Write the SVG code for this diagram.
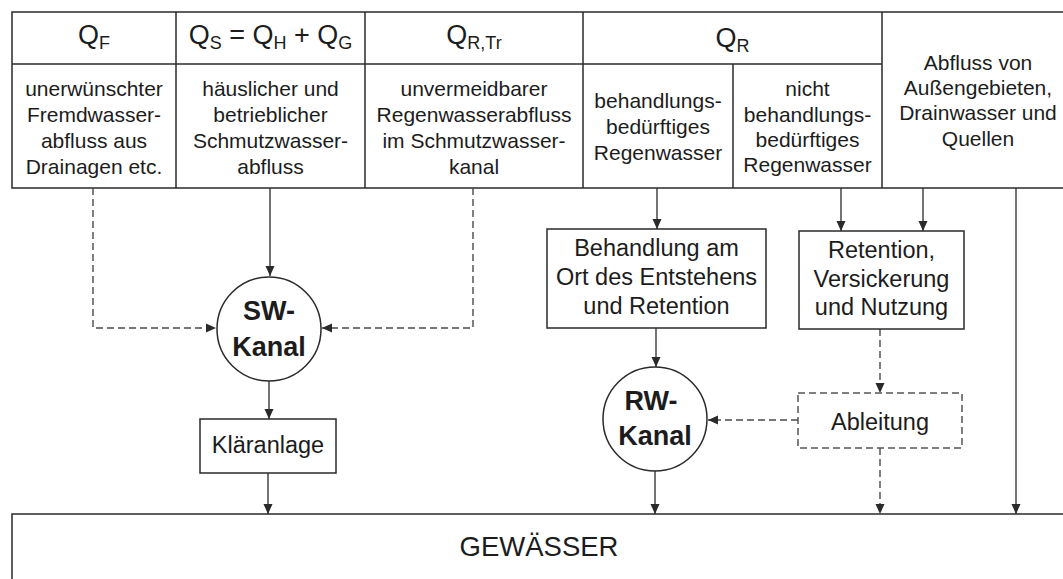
<svg xmlns="http://www.w3.org/2000/svg" width="1063" height="579" viewBox="0 0 1063 579">
<style>
text{font-family:"Liberation Sans",Arial,Helvetica,sans-serif;fill:#1c1c1c;text-anchor:middle}
.hd{font-size:27px}
.sub{font-size:18px}
.cell{font-size:21px}
.box{font-size:23.5px}
.bold{font-size:27px;font-weight:bold}
.gw{font-size:27.5px}
.frame{fill:none;stroke:#2a2a2a;stroke-width:1.5}
.node{fill:#fff;stroke:#2a2a2a;stroke-width:1.5}
.dnode{fill:#fff;stroke:#555;stroke-width:1.5;stroke-dasharray:7 4}
.solid{fill:none;stroke:#2a2a2a;stroke-width:1.3}
.dash{fill:none;stroke:#4a4a4a;stroke-width:1.4;stroke-dasharray:7 4}
</style>
<defs>
<marker id="ah" viewBox="0 0 10 10" refX="10" refY="5" markerWidth="10" markerHeight="10" markerUnits="userSpaceOnUse" orient="auto">
<path d="M0,0.5 L10,5 L0,9.5 z" fill="#2a2a2a"/>
</marker>
</defs>
<rect width="1063" height="579" fill="#fff"/>

<g id="table">
<rect class="frame" x="12" y="12" width="1070" height="176"/>
<line class="frame" x1="12" y1="64" x2="882" y2="64"/>
<line class="frame" x1="176" y1="12" x2="176" y2="188"/>
<line class="frame" x1="365" y1="12" x2="365" y2="188"/>
<line class="frame" x1="583" y1="12" x2="583" y2="188"/>
<line class="frame" x1="733" y1="64" x2="733" y2="188"/>
<line class="frame" x1="882" y1="12" x2="882" y2="188"/>
</g>

<g id="cell-QF">
<text class="hd" x="94" y="44">Q<tspan class="sub" dy="5">F</tspan></text>
<text class="cell" x="94" y="96">unerwünschter</text>
<text class="cell" x="94" y="122">Fremdwasser-</text>
<text class="cell" x="94" y="148">abfluss aus</text>
<text class="cell" x="94" y="174">Drainagen etc.</text>
</g>

<g id="cell-QS">
<text class="hd" x="270.5" y="44">Q<tspan class="sub" dy="5">S</tspan><tspan dy="-5"> = Q</tspan><tspan class="sub" dy="5">H</tspan><tspan dy="-5"> + Q</tspan><tspan class="sub" dy="5">G</tspan></text>
<text class="cell" x="270.5" y="96">häuslicher und</text>
<text class="cell" x="270.5" y="122">betrieblicher</text>
<text class="cell" x="270.5" y="148">Schmutzwasser-</text>
<text class="cell" x="270.5" y="174">abfluss</text>
</g>

<g id="cell-QRTr">
<text class="hd" x="474" y="44">Q<tspan class="sub" dy="5">R,Tr</tspan></text>
<text class="cell" x="474" y="96">unvermeidbarer</text>
<text class="cell" x="474" y="122">Regenwasserabfluss</text>
<text class="cell" x="474" y="148">im Schmutzwasser-</text>
<text class="cell" x="474" y="174">kanal</text>
</g>

<g id="cell-QR">
<text class="hd" x="732.5" y="47">Q<tspan class="sub" dy="5">R</tspan></text>
</g>

<g id="cell-behandlungsbeduerftig">
<text class="cell" x="658" y="108">behandlungs-</text>
<text class="cell" x="658" y="134">bedürftiges</text>
<text class="cell" x="658" y="160">Regenwasser</text>
</g>

<g id="cell-nicht-behandlungsbeduerftig">
<text class="cell" x="807.5" y="96">nicht</text>
<text class="cell" x="807.5" y="122">behandlungs-</text>
<text class="cell" x="807.5" y="147">bedürftiges</text>
<text class="cell" x="807.5" y="172">Regenwasser</text>
</g>

<g id="cell-aussengebiete">
<text class="cell" x="978" y="70">Abfluss von</text>
<text class="cell" x="978" y="95">Außengebieten,</text>
<text class="cell" x="978" y="120">Drainwasser und</text>
<text class="cell" x="978" y="146">Quellen</text>
</g>

<g id="connectors">
<path class="dash" d="M93,188 V328 H216" marker-end="url(#ah)"/>
<path class="solid" d="M270,188 V276" marker-end="url(#ah)"/>
<path class="dash" d="M473,188 V328 H322" marker-end="url(#ah)"/>
<path class="solid" d="M269,381 V419" marker-end="url(#ah)"/>
<path class="solid" d="M268,473 V514" marker-end="url(#ah)"/>
<path class="solid" d="M657,188 V229" marker-end="url(#ah)"/>
<path class="solid" d="M841,188 V231" marker-end="url(#ah)"/>
<path class="solid" d="M923,188 V231" marker-end="url(#ah)"/>
<path class="solid" d="M656,328 V367" marker-end="url(#ah)"/>
<path class="dash" d="M880,329 V393" marker-end="url(#ah)"/>
<path class="dash" d="M798,420 H708" marker-end="url(#ah)"/>
<path class="solid" d="M655,471 V514" marker-end="url(#ah)"/>
<path class="dash" d="M880,448 V514" marker-end="url(#ah)"/>
<path class="solid" d="M1016,188 V514" marker-end="url(#ah)"/>
</g>

<g id="sw-kanal">
<circle class="node" cx="269" cy="329" r="52"/>
<text class="bold" x="269" y="320">SW-</text>
<text class="bold" x="269" y="356">Kanal</text>
</g>

<g id="klaeranlage">
<rect class="node" x="200" y="419" width="136" height="54"/>
<text class="box" x="268" y="453">Kläranlage</text>
</g>

<g id="behandlung">
<rect class="node" x="547" y="229" width="219" height="99"/>
<text class="box" x="656.5" y="256">Behandlung am</text>
<text class="box" x="656.5" y="285">Ort des Entstehens</text>
<text class="box" x="656.5" y="314">und Retention</text>
</g>

<g id="retention">
<rect class="node" x="799" y="231" width="165" height="98"/>
<text class="box" x="881.5" y="258">Retention,</text>
<text class="box" x="881.5" y="287">Versickerung</text>
<text class="box" x="881.5" y="315">und Nutzung</text>
</g>

<g id="rw-kanal">
<circle class="node" cx="655" cy="419" r="52"/>
<text class="bold" x="651" y="410">RW-</text>
<text class="bold" x="655" y="445">Kanal</text>
</g>

<g id="ableitung">
<rect class="dnode" x="798" y="393" width="164" height="55"/>
<text class="box" x="880" y="430">Ableitung</text>
</g>

<g id="gewaesser">
<rect class="node" x="12" y="514" width="1070" height="100"/>
<text class="gw" x="539" y="556">GEWÄSSER</text>
</g>
</svg>
